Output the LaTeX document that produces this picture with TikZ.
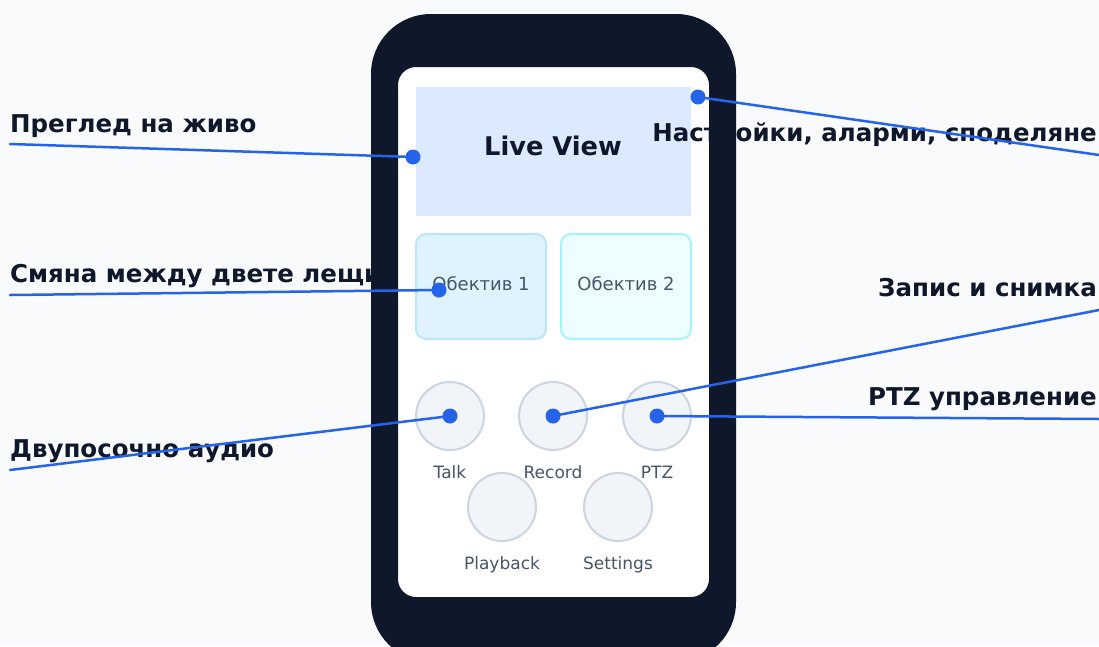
\documentclass[tikz,border=0pt]{standalone}
\usepackage{fontspec}
\setmainfont{DejaVu Sans}
\definecolor{bgpage}{HTML}{F8FAFC}
\definecolor{phonebody}{HTML}{0F172A}
\definecolor{livefill}{HTML}{DBEAFE}
\definecolor{lensonefill}{HTML}{E0F2FE}
\definecolor{lensoneline}{HTML}{BAE6FD}
\definecolor{lenstwofill}{HTML}{ECFEFF}
\definecolor{lenstwoline}{HTML}{A5F3FC}
\definecolor{btnfill}{HTML}{F1F5F9}
\definecolor{btnline}{HTML}{CBD5E1}
\definecolor{captext}{HTML}{475569}
\definecolor{calloutblue}{HTML}{2563EB}
\tikzset{
  callout/.style={font=\fontsize{24.5}{29}\selectfont\bfseries, text=phonebody, inner sep=0pt},
  btnlabel/.style={font=\fontsize{17}{20}\selectfont, text=captext, inner sep=0pt, anchor=base},
  btncircle/.style={circle, fill=btnfill, draw=btnline, line width=2pt, minimum size=68pt, inner sep=0pt},
  lensbox/.style={rounded corners=10pt, line width=2pt, minimum width=130pt, minimum height=105pt, inner sep=0pt},
  dot/.style={circle, fill=calloutblue, inner sep=0pt, minimum size=15pt},
  link/.style={calloutblue, line width=2.5pt}
}
\begin{document}
\begin{tikzpicture}[x=1pt, y=-1pt, line join=round, line cap=round]
  \fill[bgpage] (0,0) rectangle (1099,646);
  \useasboundingbox (0,0) rectangle (1099,646);
  % screen
  \fill[white, rounded corners=18pt] (398,67) rectangle (709,597);
  \node[fill=livefill, minimum width=275pt, minimum height=129pt, inner sep=0pt] (live) at (553.5,151.5) {};
  \node[font=\fontsize{25.7}{30}\selectfont\bfseries, text=phonebody, anchor=base] at (553,155) {Live View};
  \node[lensbox, fill=lensonefill, draw=lensoneline] (lensA) at (481,286.5) {};
  \node[lensbox, fill=lenstwofill, draw=lenstwoline] (lensB) at (626,286.5) {};
  \node[font=\fontsize{18}{22}\selectfont, text=captext, anchor=base] at (481,290) {Обектив 1};
  \node[font=\fontsize{18}{22}\selectfont, text=captext, anchor=base] at (626,290) {Обектив 2};
  % buttons
  \foreach \n/\x/\y/\t in {talk/450/416/Talk, record/553/416/Record, ptz/657/416/PTZ, playback/502/507/Playback, settings/618/507/Settings}{
    \node[btncircle] (\n) at (\x,\y) {};
    \node[btnlabel] at (\x,\y+62) {\t};
  }
  % labels
  \node[callout, anchor=base west] (lblLive) at (10,132) {Преглед на живо};
  \node[callout, anchor=base west] (lblLens) at (10,282) {Смяна между двете лещи};
  \node[callout, anchor=base west] (lblTalk) at (10,457) {Двупосочно аудио};
  \node[callout, anchor=base east] (lblSet) at (1097,141) {Настройки, аларми, споделяне};
  \node[callout, anchor=base east] (lblRec) at (1097,296) {Запис и снимка};
  \node[callout, anchor=base east] (lblPtz) at (1097,405) {PTZ управление};
  % phone frame
  \fill[phonebody, even odd rule] [rounded corners=60pt] (371,14) rectangle (736,662)
    [rounded corners=18pt] (398,67) rectangle (709,597);
  % callouts
  \node[dot] (dLive) at (413,157) {};
  \node[dot] (dLens) at (439,290) {};
  \node[dot] (dTalk) at (450,416) {};
  \node[dot] (dSet) at (698,97) {};
  \node[dot] (dRec) at (553,416) {};
  \node[dot] (dPtz) at (657,416) {};
  \coordinate (eLive) at (10,144);
  \coordinate (eLens) at (10,295);
  \coordinate (eTalk) at (10,470);
  \coordinate (eSet) at (1099,155);
  \coordinate (eRec) at (1099,310);
  \coordinate (ePtz) at (1099,419);
  \foreach \a/\b in {eLive/dLive, eLens/dLens, eTalk/dTalk, dSet/eSet, dRec/eRec, dPtz/ePtz}
    \draw[link] (\a.center) -- (\b.center);
\end{tikzpicture}
\end{document}
